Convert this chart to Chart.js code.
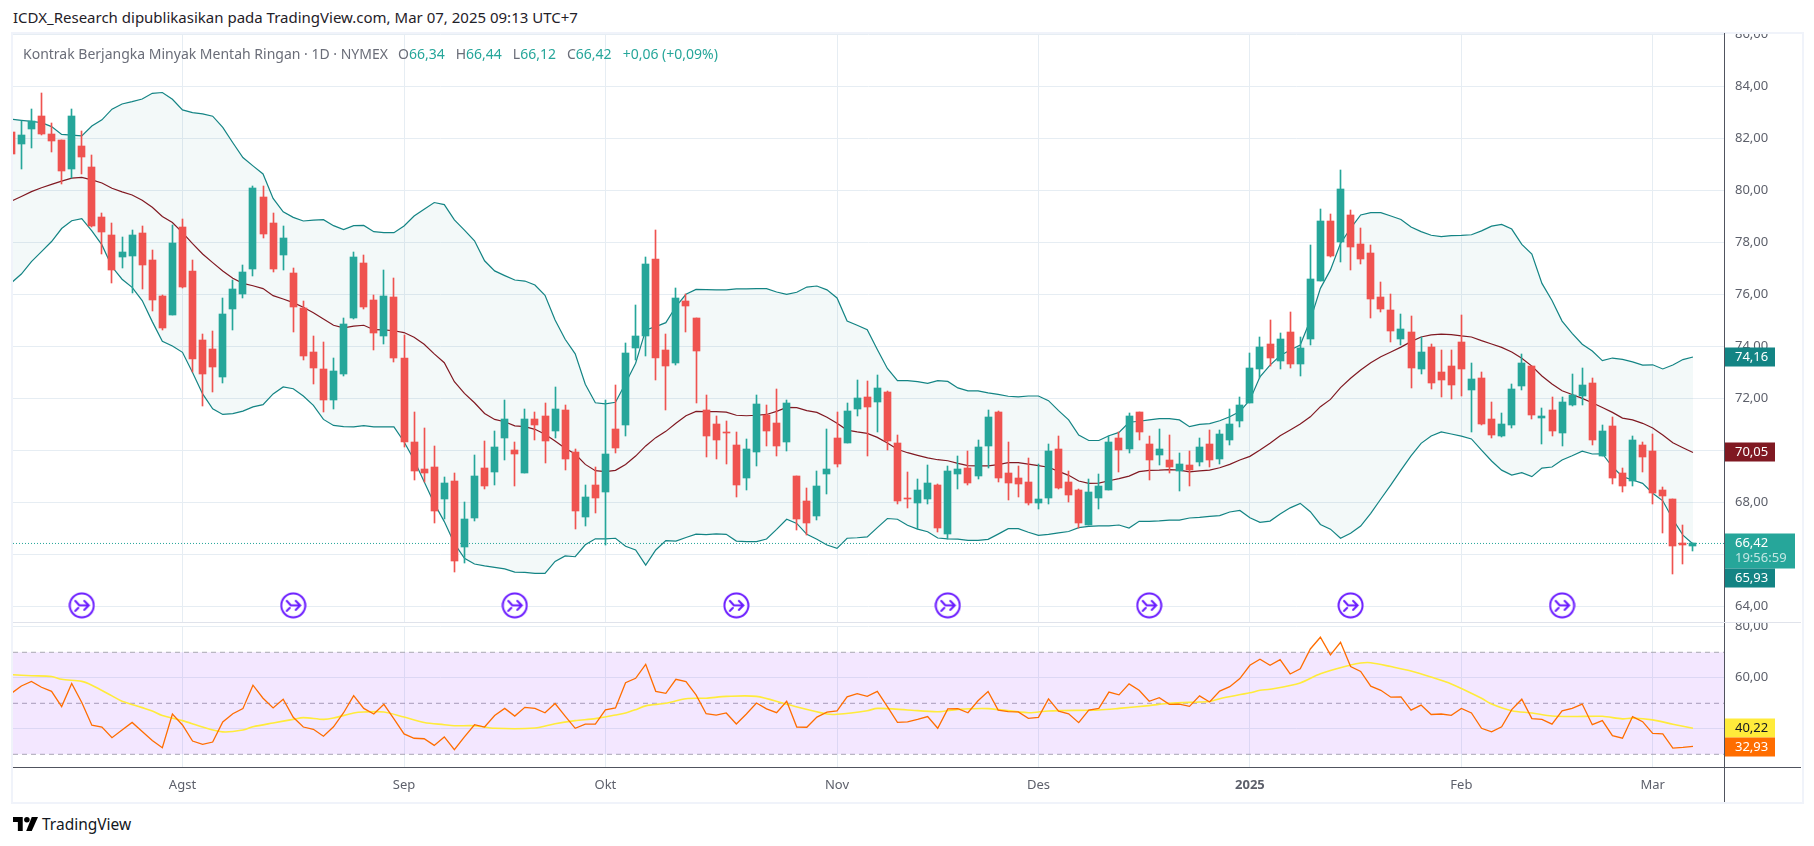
<!DOCTYPE html>
<html lang="id">
<head>
<meta charset="utf-8">
<title>Kontrak Berjangka Minyak Mentah Ringan</title>
<script src="https://cdn.jsdelivr.net/npm/chart.js@4/dist/chart.umd.min.js"></script>
<style>
  html, body { margin: 0; padding: 0; background: #fff; }
  body { width: 1814px; height: 846px; position: relative; overflow: hidden; font-family: "Noto Sans", sans-serif; }
  canvas { position: absolute; display: block; }
  #published { position: absolute; left: 13px; top: 7px; font-size: 15px; line-height: 20px; color: #1f2128; white-space: nowrap; }
  #legend { position: absolute; left: 23px; top: 44px; font-size: 14px; line-height: 19px; color: #6a6d78; white-space: nowrap; z-index: 3; }
  #legend b { font-weight: normal; color: #26a69a; }
  #legend span { margin-left: 11px; }
  #legend span.first { margin-left: 10px; }
  #frame { position: absolute; left: 11px; top: 32px; width: 1789px; height: 768px; border: 2px solid #f0f3fa; }
  .rule { position: absolute; z-index: 3; }
  #logo { position: absolute; left: 13px; top: 817px; width: 25px; height: 14px; }
  #brand { position: absolute; left: 42px; top: 813px; font-size: 15.5px; line-height: 22px; color: #131722; }
</style>
</head>
<body>
<div id="published">ICDX_Research dipublikasikan pada TradingView.com, Mar 07, 2025 09:13 UTC+7</div>
<div id="frame"></div>
<canvas id="pricePane" width="1788" height="588" style="left:13px;top:34px"></canvas>
<canvas id="rsiPane" width="1788" height="180" style="left:13px;top:622px"></canvas>
<div id="legend">Kontrak Berjangka Minyak Mentah Ringan · 1D · NYMEX<span class="first">O<b>66,34</b></span><span>H<b>66,44</b></span><span>L<b>66,12</b></span><span>C<b>66,42</b></span><span><b>+0,06 (+0,09%)</b></span></div>
<div class="rule" style="left:1724px;top:33px;width:1px;height:769px;background:#50535e"></div>
<div class="rule" style="left:13px;top:622px;width:1788px;height:1px;background:#e0e3eb"></div>
<div class="rule" style="left:13px;top:767px;width:1788px;height:1px;background:#50535e"></div>
<svg id="logo" viewBox="0 0 36 20"><path d="M14 20H7V7H0V0h14v20z"/><circle cx="20" cy="4" r="4"/><path d="M27 20h-8L27 0h9l-9 20z"/></svg>
<div id="brand">TradingView</div>

<script>
// candles, one per trading day from mid July 2024 to 7 March 2025
const opens = [
  82.23,81.78,82.36,82.86,82.17,81.94,80.82,81.71,80.90,78.97,
  78.28,77.44,77.47,78.36,77.32,75.94,75.20,78.59,76.90,74.24,
  73.90,72.82,75.44,76.01,76.97,79.74,78.74,77.51,76.82,75.47,
  73.78,73.13,71.94,72.94,75.09,77.21,75.78,74.40,75.90,73.55,
  70.32,69.28,69.36,68.13,68.82,66.28,67.40,69.32,69.17,70.47,
  70.01,69.13,71.21,71.32,70.74,71.55,69.94,67.44,68.67,68.40,
  70.82,70.97,73.94,74.40,77.36,73.86,73.36,75.74,75.09,71.55,
  71.01,70.71,70.21,68.94,69.94,71.36,71.05,70.32,69.01,68.05,
  67.47,69.09,70.47,70.28,71.59,72.05,71.86,72.24,70.28,68.17,
  67.97,68.13,68.67,66.78,69.09,69.32,69.01,70.17,71.47,69.13,
  68.94,68.78,67.97,68.17,70.05,68.78,68.47,67.13,68.17,68.47,
  70.47,70.05,71.47,70.24,69.82,69.63,69.21,69.44,69.55,70.24,
  69.67,70.40,71.13,71.82,73.13,74.09,73.44,74.55,73.32,74.28,
  76.51,78.82,78.01,79.05,77.94,77.60,75.90,75.40,74.28,74.55,
  73.13,73.97,73.01,73.24,74.17,72.32,72.78,71.20,70.55,70.97,
  72.47,73.24,71.24,71.55,70.67,71.74,72.09,72.59,69.78,70.94,
  69.13,68.82,70.20,69.97,68.47,68.13,66.42,66.34]
const highs = [
  82.23,82.68,83.13,83.74,82.58,81.94,83.13,82.28,81.36,79.12,
  78.74,78.21,78.47,78.63,77.71,75.97,78.67,78.90,77.32,74.47,
  74.59,75.86,76.55,77.12,80.17,80.17,79.13,78.63,77.01,75.74,
  74.40,74.17,73.55,75.08,77.63,77.51,75.97,76.94,76.63,74.44,
  71.47,70.86,70.17,68.97,69.13,68.01,69.82,70.36,70.74,71.94,
  70.32,71.59,71.47,71.82,72.44,71.76,70.05,68.67,69.36,71.94,
  72.51,74.13,75.59,77.44,78.47,74.47,76.24,76.01,75.09,72.13,
  71.32,71.13,70.71,70.44,72.13,71.74,72.36,71.94,69.01,68.55,
  69.21,70.82,71.47,71.82,72.71,72.67,72.90,72.28,70.59,69.17,
  68.90,69.44,68.71,69.40,69.78,69.97,70.40,71.55,71.51,70.32,
  69.40,69.71,69.47,70.24,70.55,69.21,68.51,68.90,69.09,70.55,
  70.71,71.44,71.47,70.55,70.82,70.59,69.90,69.97,70.47,70.78,
  70.78,71.59,72.05,73.74,74.36,75.01,74.53,75.32,74.36,77.90,
  79.28,79.09,80.78,79.24,78.55,77.90,76.49,76.01,75.24,75.17,
  74.36,74.09,73.86,73.86,75.21,73.36,73.01,71.86,71.44,72.55,
  73.71,73.24,71.63,72.05,72.05,72.94,73.17,72.78,70.97,71.28,
  69.32,70.55,70.32,70.63,68.59,68.13,67.13,66.44]
const lows = [
  81.40,80.82,81.63,82.13,81.47,80.26,80.47,80.63,78.59,77.55,
  76.44,77.01,76.04,76.21,75.36,74.63,75.20,76.24,73.01,71.71,
  72.24,72.59,74.63,75.86,76.71,78.17,76.86,76.94,74.55,73.47,
  72.55,71.47,71.59,72.86,75.05,75.44,73.86,74.09,73.40,70.13,
  68.86,68.80,67.21,67.36,65.32,65.67,67.28,68.51,68.67,69.63,
  68.63,69.13,70.40,69.51,70.47,69.24,66.97,67.09,67.59,66.36,
  69.90,70.55,73.47,73.63,72.71,71.55,73.28,74.55,71.82,69.74,
  69.67,69.47,68.21,68.47,69.40,70.17,69.78,69.97,66.94,66.74,
  67.32,68.32,69.36,70.28,71.32,69.78,70.71,70.01,67.94,67.78,
  66.97,67.94,66.86,66.59,68.51,68.67,68.90,69.32,68.78,68.09,
  68.21,67.90,67.74,67.94,68.51,68.01,67.01,67.13,67.74,68.47,
  69.17,69.90,70.40,68.86,69.44,69.13,68.44,68.63,69.40,69.36,
  69.47,70.21,70.90,71.82,72.78,73.24,73.13,73.17,72.86,74.05,
  76.51,77.44,77.24,76.94,77.17,75.09,75.32,74.17,74.05,72.40,
  72.94,72.36,72.05,71.97,72.09,70.71,70.97,70.47,70.51,70.86,
  72.32,71.20,70.24,70.55,70.17,71.70,71.74,70.21,69.78,68.71,
  68.40,68.63,69.17,67.94,66.82,65.24,65.63,66.12]
const closes = [
  81.40,82.13,82.65,82.15,81.90,80.74,82.86,81.28,78.63,78.40,
  76.94,77.63,78.28,77.13,75.78,74.71,77.96,76.28,73.51,72.94,
  73.21,75.24,76.21,76.86,80.09,78.32,76.97,78.17,75.51,73.63,
  73.17,71.94,73.05,74.86,77.44,75.51,74.51,75.94,73.55,70.32,
  69.21,69.13,67.67,68.74,65.74,67.36,69.01,68.63,70.13,71.21,
  69.86,71.21,70.97,70.36,71.59,69.67,67.67,68.21,68.17,69.86,
  70.09,73.74,74.40,77.17,73.55,73.24,75.86,75.55,73.82,70.55,
  70.40,70.68,68.67,70.05,71.78,70.74,70.17,71.82,67.36,67.21,
  68.63,69.28,69.47,71.51,72.01,71.67,72.40,70.36,68.05,68.14,
  68.47,68.74,67.01,69.21,69.28,68.74,70.13,71.28,68.94,68.74,
  68.71,67.97,68.13,69.97,68.55,68.28,67.21,68.40,68.63,70.32,
  70.01,71.32,70.71,69.63,70.05,69.36,69.47,69.24,70.13,69.63,
  70.63,71.01,71.74,73.17,73.97,73.55,74.28,73.32,73.94,76.59,
  78.82,77.47,80.05,77.82,77.36,75.82,75.44,74.59,74.67,73.17,
  73.78,72.59,72.71,72.51,73.13,72.74,71.01,70.59,71.01,72.36,
  73.36,71.36,71.32,70.74,71.86,72.13,72.51,70.40,70.74,68.94,
  68.63,70.40,69.74,68.36,68.24,66.32,66.38,66.42]

// bollinger bands
const bbUpper = [
  82.73,82.69,82.65,82.60,82.45,82.15,82.12,82.09,82.47,82.71,
  83.12,83.32,83.41,83.51,83.73,83.76,83.50,83.09,82.99,82.94,
  82.85,82.42,81.83,81.26,80.94,80.63,79.69,79.17,78.96,78.82,
  78.85,78.87,78.64,78.49,78.64,78.65,78.41,78.37,78.37,78.63,
  79.01,79.27,79.53,79.45,78.86,78.47,78.06,77.29,76.90,76.72,
  76.55,76.51,76.36,75.96,75.01,74.27,73.71,72.54,71.83,71.79,
  71.85,72.58,73.35,74.63,74.76,74.91,75.53,76.00,76.19,76.18,
  76.17,76.17,76.21,76.21,76.22,76.22,76.09,76.00,76.08,76.28,
  76.32,76.17,75.86,74.97,74.81,74.64,73.88,73.15,72.68,72.68,
  72.64,72.58,72.68,72.65,72.40,72.29,72.29,72.21,72.15,72.08,
  72.06,72.09,72.09,71.91,71.53,71.17,70.59,70.38,70.38,70.56,
  70.69,71.08,71.12,71.17,71.22,71.22,71.17,70.91,71.00,71.03,
  71.14,71.29,71.49,71.94,72.83,73.28,73.64,73.86,74.05,75.01,
  76.23,76.94,77.96,78.54,79.05,79.14,79.14,79.01,78.88,78.59,
  78.41,78.27,78.22,78.26,78.27,78.29,78.44,78.62,78.69,78.51,
  77.92,77.55,76.42,75.76,74.97,74.50,74.08,73.82,73.45,73.55,
  73.50,73.40,73.28,73.29,73.13,73.28,73.49,73.59]
const bbBasis = [
  79.58,79.76,79.95,80.10,80.23,80.35,80.47,80.50,80.40,80.28,
  80.08,79.94,79.82,79.62,79.35,78.99,78.76,78.37,77.95,77.55,
  77.22,76.90,76.62,76.42,76.33,76.22,75.95,75.82,75.68,75.50,
  75.29,75.05,74.81,74.71,74.78,74.81,74.64,74.63,74.60,74.53,
  74.35,74.08,73.71,73.37,72.64,72.19,71.83,71.42,71.19,71.10,
  70.94,70.91,70.81,70.62,70.36,70.08,69.86,69.46,69.22,69.18,
  69.23,69.46,69.78,70.17,70.49,70.73,71.04,71.33,71.50,71.49,
  71.49,71.47,71.35,71.33,71.35,71.38,71.50,71.65,71.64,71.53,
  71.46,71.27,71.04,70.78,70.71,70.65,70.50,70.28,70.04,69.91,
  69.81,69.71,69.64,69.60,69.50,69.41,69.40,69.40,69.45,69.53,
  69.53,69.47,69.41,69.35,69.19,69.04,68.82,68.73,68.74,68.83,
  68.91,69.01,69.18,69.23,69.24,69.26,69.24,69.17,69.21,69.24,
  69.33,69.46,69.63,69.77,70.01,70.27,70.56,70.78,71.01,71.29,
  71.68,71.96,72.41,72.77,73.09,73.37,73.60,73.78,73.97,74.18,
  74.36,74.44,74.47,74.45,74.40,74.36,74.22,74.09,73.96,73.78,
  73.54,73.24,72.86,72.55,72.29,72.15,72.00,71.83,71.65,71.46,
  71.24,71.17,71.04,70.86,70.59,70.29,70.10,69.92]
const bbLower = [
  76.44,76.78,77.26,77.64,78.03,78.53,78.83,78.91,78.44,77.90,
  77.06,76.58,76.27,75.76,74.95,74.19,74.01,73.77,72.99,72.17,
  71.60,71.38,71.41,71.51,71.67,71.76,72.17,72.44,72.37,72.09,
  71.73,71.19,70.96,70.91,70.90,70.95,70.90,70.90,70.90,70.33,
  69.63,68.79,67.96,67.26,66.42,65.85,65.63,65.56,65.50,65.44,
  65.32,65.31,65.27,65.27,65.73,65.94,65.91,66.37,66.60,66.60,
  66.62,66.31,66.17,65.59,66.17,66.53,66.51,66.65,66.78,66.76,
  66.79,66.77,66.51,66.49,66.49,66.59,66.96,67.35,67.19,66.77,
  66.58,66.36,66.23,66.62,66.64,66.67,67.03,67.38,67.35,67.12,
  66.97,66.87,66.63,66.60,66.59,66.54,66.54,66.58,66.78,66.99,
  66.99,66.85,66.73,66.77,66.83,66.88,67.03,67.08,67.10,67.10,
  67.13,67.01,67.27,67.27,67.29,67.32,67.32,67.40,67.42,67.46,
  67.49,67.63,67.69,67.41,67.23,67.28,67.55,67.79,67.96,67.64,
  67.15,66.97,66.62,66.81,67.09,67.58,68.13,68.67,69.24,69.79,
  70.27,70.55,70.71,70.63,70.55,70.44,70.01,69.59,69.24,69.05,
  69.14,68.99,69.32,69.36,69.63,69.79,69.97,69.86,69.87,69.37,
  68.99,68.86,68.73,68.35,68.06,67.35,66.74,66.40]

// RSI and its moving average (the average is read at its bends)
const rsiValues = [
  53.9,56.8,58.6,56.3,54.7,48.7,57.8,50.3,41.4,40.7,
  36.5,39.5,42.5,38.9,35.4,32.6,45.8,41.5,35.2,33.9,
  34.8,42.7,45.9,47.9,57.1,52.0,48.2,51.6,44.5,40.7,
  39.8,37.1,40.8,46.3,53.0,48.0,45.8,49.6,43.9,38.0,
  36.3,36.1,33.5,36.8,31.8,36.8,41.6,40.7,45.2,48.0,
  45.0,48.4,48.0,46.3,49.9,45.0,40.2,41.8,41.8,47.4,
  48.2,58.1,59.8,65.3,54.7,53.9,59.4,58.5,53.3,45.9,
  45.4,46.2,41.9,45.8,50.1,47.8,46.3,50.8,40.7,40.6,
  44.6,46.5,47.0,52.5,53.8,52.7,54.7,48.7,42.5,42.7,
  43.7,44.8,40.2,47.8,47.9,46.3,51.0,54.6,47.3,46.7,
  46.6,44.1,44.5,51.7,46.9,45.9,42.4,47.3,48.0,54.4,
  53.3,57.6,55.1,50.8,52.2,49.6,49.7,48.8,52.9,50.5,
  54.8,56.5,59.7,64.9,67.3,64.9,67.1,61.5,63.5,71.3,
  75.9,69.0,73.9,64.4,62.5,56.7,55.1,52.4,52.5,47.3,
  49.3,45.6,45.8,45.3,48.0,46.2,40.2,38.8,40.8,47.5,
  51.6,44.0,43.7,41.8,47.0,48.0,49.7,41.6,43.2,37.3,
  36.3,44.8,42.8,38.2,38.0,32.4,32.7,33.1]
const rsiMaBars = [0,2,4,5,7,8,10,11,13,14,15,17,19,21,23,24,26,28,29,31,32,34,35,37,39,41,43,44,46,48,52,54,56,58,60,61,62,63,65,67,69,71,74,77,81,82,85,86,89,92,94,97,101,103,108,110,113,115,118,119,120,123,124,125,128,130,133,134,135,137,139,141,143,146,147,149,151,153,155,158,160,161,163,165,167]
const rsiMaValues = [61.2,60.8,60.5,59.4,58.6,57.1,52.9,50.8,48.3,47.0,45.2,43.2,40.7,38.8,39.5,40.8,42.3,43.7,44.4,43.7,44.2,46.2,46.6,46.6,44.6,42.5,41.6,41.2,41.2,40.2,40.3,42.0,43.2,44.0,45.4,46.2,47.5,49.0,50.0,51.8,52.0,52.7,52.7,49.6,45.8,45.7,47.1,48.0,47.4,46.7,47.6,47.9,46.3,47.0,47.4,48.0,49.1,50.0,50.5,50.7,51.8,54.1,55.1,55.5,58.0,61.6,65.0,65.8,65.9,64.4,62.7,60.3,57.6,52.0,49.7,47.1,46.2,45.0,44.8,44.9,43.9,44.2,43.5,41.8,40.2]

// axes
const monthBars = [17,39,59,82,102,123,144,163]
const monthLabels = ['Agst','Sep','Okt','Nov','Des','2025','Feb','Mar']
const priceTicks = [64,66,68,70,72,74,76,78,80,82,84,86]
const rsiTicks = [40,60,80]
const rsiLevels = [70,50,30]
const eventBars = [7,28,50,72,93,113,133,154]

const lastPrice = 66.42
const xMin = 0.17
const xMax = 170.08

const UP = '#26a69a'
const DOWN = '#ef5350'
const BAND = '#138484'
const BASIS = '#801922'
const GRID = '#e6edf3'
const AXIS_TEXT = '#5d606b'
const FONT = '"Noto Sans", sans-serif'

const bars = closes.map((_, i) => i)
const candleColors = closes.map((c, i) => c >= opens[i] ? UP : DOWN)
const series = values => values.map((v, i) => ({x: i, y: v}))
const decimal = v => v.toFixed(2).replace('.', ',')

// the round purple marker for contract rollovers
function makeEventIcon() {
  let c = document.createElement('canvas')
  c.width = 27
  c.height = 27
  let g = c.getContext('2d')
  g.strokeStyle = '#6a1bff'
  g.lineWidth = 2
  g.lineCap = 'round'
  g.fillStyle = '#fff'
  g.beginPath()
  g.arc(13.5, 13.5, 12, 0, Math.PI * 2)
  g.fill()
  g.stroke()
  g.beginPath()
  g.moveTo(7, 9); g.lineTo(11, 13.5); g.lineTo(20, 13.5)
  g.moveTo(16, 9); g.lineTo(20.5, 13.5); g.lineTo(16, 18)
  g.moveTo(7, 19); g.lineTo(10, 16)
  g.stroke()
  return c
}

// keep candles on whole pixels, otherwise 1px wicks turn into a blur
const snapBars = {
  id: 'snapBars',
  afterDatasetsUpdate(chart) {
    chart.data.datasets.forEach((ds, i) => {
      if (ds.type !== 'bar') return
      chart.getDatasetMeta(i).data.forEach(el => {
        el.x = Math.floor(el.x) + 0.5
        el.y = Math.round(el.y)
        el.base = Math.round(el.base)
      })
    })
  }
}

// coloured last-value labels on the price axis, pushed down when they collide
const lastValueBadges = {
  id: 'lastValueBadges',
  afterDraw(chart, args, opts) {
    const ctx = chart.ctx
    const scale = chart.scales.y
    const left = scale.left
    let prevBottom = -100
    opts.items.forEach(b => {
      let h = b.sub ? 35 : 19
      let top = Math.round(scale.getPixelForValue(b.value)) - 9.5
      if (top < prevBottom) top = prevBottom
      ctx.fillStyle = b.bg
      ctx.fillRect(left, top, b.sub ? 71 : 51, h)
      ctx.font = '13px ' + FONT
      ctx.textBaseline = 'middle'
      ctx.textAlign = 'left'
      ctx.fillStyle = b.fg
      ctx.fillText(b.text, left + 11, top + 9.5)
      if (b.sub) {
        ctx.fillStyle = 'rgba(255,255,255,0.72)'
        ctx.fillText(b.sub, left + 11, top + 25)
      }
      prevBottom = top + h
    })
  }
}

function xAxis(showLabels) {
  return {
    type: 'linear',
    offset: false,
    min: xMin,
    max: xMax,
    afterBuildTicks: s => { s.ticks = monthBars.map(v => ({value: v})) },
    afterFit: s => {
      s.height = showLabels ? 35 : 0
      s.paddingLeft = 0
      s.paddingRight = 0
    },
    grid: {color: GRID, drawTicks: false, offset: false},
    border: {display: false},
    ticks: {
      display: showLabels,
      autoSkip: false,
      maxRotation: 0,
      padding: 10,
      color: AXIS_TEXT,
      font: ctx => ({family: FONT, size: 13, weight: monthLabels[ctx.index] === '2025' ? 'bold' : 'normal'}),
      callback: (v, i) => monthLabels[i]
    }
  }
}

function yAxis(min, max, values) {
  return {
    position: 'right',
    min: min,
    max: max,
    afterBuildTicks: s => { s.ticks = values.map(v => ({value: v})) },
    afterFit: s => {
      s.width = 77
      // tick labels at the very top may be cut off, as in the original
      s.paddingTop = 0
      s.paddingBottom = 0
    },
    grid: {color: GRID, drawTicks: false},
    border: {display: false},
    ticks: {
      autoSkip: false,
      padding: 11,
      color: AXIS_TEXT,
      font: {family: FONT, size: 13},
      callback: v => decimal(v)
    }
  }
}

const sharedOptions = {
  responsive: false,
  animation: false,
  devicePixelRatio: 1
}

new Chart(document.getElementById('pricePane'), {
  plugins: [snapBars, lastValueBadges],
  data: {
    datasets: [
      {
        type: 'line',
        data: eventBars.map(b => ({x: b, y: 64.04})),
        showLine: false,
        pointStyle: makeEventIcon(),
        pointRadius: 13,
        order: 0
      },
      {
        type: 'bar',
        data: bars.map(i => ({x: i, y: [opens[i], closes[i]]})),
        backgroundColor: candleColors,
        barThickness: 7,
        grouped: false,
        order: 1
      },
      {
        type: 'bar',
        data: bars.map(i => ({x: i, y: [lows[i], highs[i]]})),
        backgroundColor: candleColors,
        barThickness: 1,
        grouped: false,
        order: 2
      },
      {
        type: 'line',
        data: [{x: xMin, y: lastPrice}, {x: xMax, y: lastPrice}],
        borderColor: UP,
        borderWidth: 1,
        borderDash: [1, 2],
        pointRadius: 0,
        order: 3
      },
      {
        type: 'line',
        data: series(bbBasis),
        borderColor: BASIS,
        borderWidth: 1.2,
        pointRadius: 0,
        order: 4
      },
      {
        type: 'line',
        data: series(bbLower),
        borderColor: BAND,
        borderWidth: 1.2,
        pointRadius: 0,
        order: 5
      },
      {
        type: 'line',
        data: series(bbUpper),
        borderColor: BAND,
        borderWidth: 1.2,
        pointRadius: 0,
        fill: 5,
        backgroundColor: 'rgba(19,132,132,0.05)',
        order: 6
      }
    ]
  },
  options: {
    ...sharedOptions,
    // the big event markers would otherwise pad the plot area
    layout: {padding: 0, autoPadding: false},
    scales: {
      x: xAxis(false),
      y: yAxis(63.40, 86.01, priceTicks)
    },
    plugins: {
      legend: {display: false},
      tooltip: {enabled: false},
      lastValueBadges: {
        items: [
          {value: bbUpper[167], text: '74,16', bg: BAND, fg: '#fff'},
          {value: bbBasis[167], text: '70,05', bg: BASIS, fg: '#fff'},
          {value: lastPrice, text: '66,42', sub: '19:56:59', bg: UP, fg: '#fff'},
          {value: bbLower[167], text: '65,93', bg: BAND, fg: '#fff'}
        ]
      }
    }
  }
})

const levelLines = rsiLevels.map((lv, n) => ({
  type: 'line',
  data: [{x: xMin, y: lv}, {x: xMax, y: lv}],
  borderColor: '#a9a9b2',
  borderWidth: 1,
  borderDash: [5, 4],
  pointRadius: 0,
  // the top level carries the fill down to the bottom level (dataset index 4)
  fill: n === 0 ? 4 : false,
  backgroundColor: 'rgba(149,39,255,0.11)',
  order: 5 + n
}))

new Chart(document.getElementById('rsiPane'), {
  plugins: [lastValueBadges],
  data: {
    datasets: [
      {
        type: 'line',
        data: series(rsiValues),
        borderColor: '#ff6d00',
        borderWidth: 1.3,
        pointRadius: 0,
        order: 1
      },
      {
        type: 'line',
        data: rsiMaBars.map((b, i) => ({x: b, y: rsiMaValues[i]})),
        borderColor: '#ffeb3b',
        borderWidth: 1.6,
        pointRadius: 0,
        tension: 0.3,
        order: 2
      },
      ...levelLines
    ]
  },
  options: {
    ...sharedOptions,
    layout: {padding: {top: 4}, autoPadding: false},
    scales: {
      x: xAxis(true),
      y: yAxis(25.02, 80.31, rsiTicks)
    },
    plugins: {
      legend: {display: false},
      tooltip: {enabled: false},
      lastValueBadges: {
        items: [
          {value: rsiMaValues[rsiMaValues.length - 1], text: '40,22', bg: '#ffeb3b', fg: '#131722'},
          {value: rsiValues[167], text: '32,93', bg: '#ff6d00', fg: '#fff'}
        ]
      }
    }
  }
})
</script>
</body>
</html>
